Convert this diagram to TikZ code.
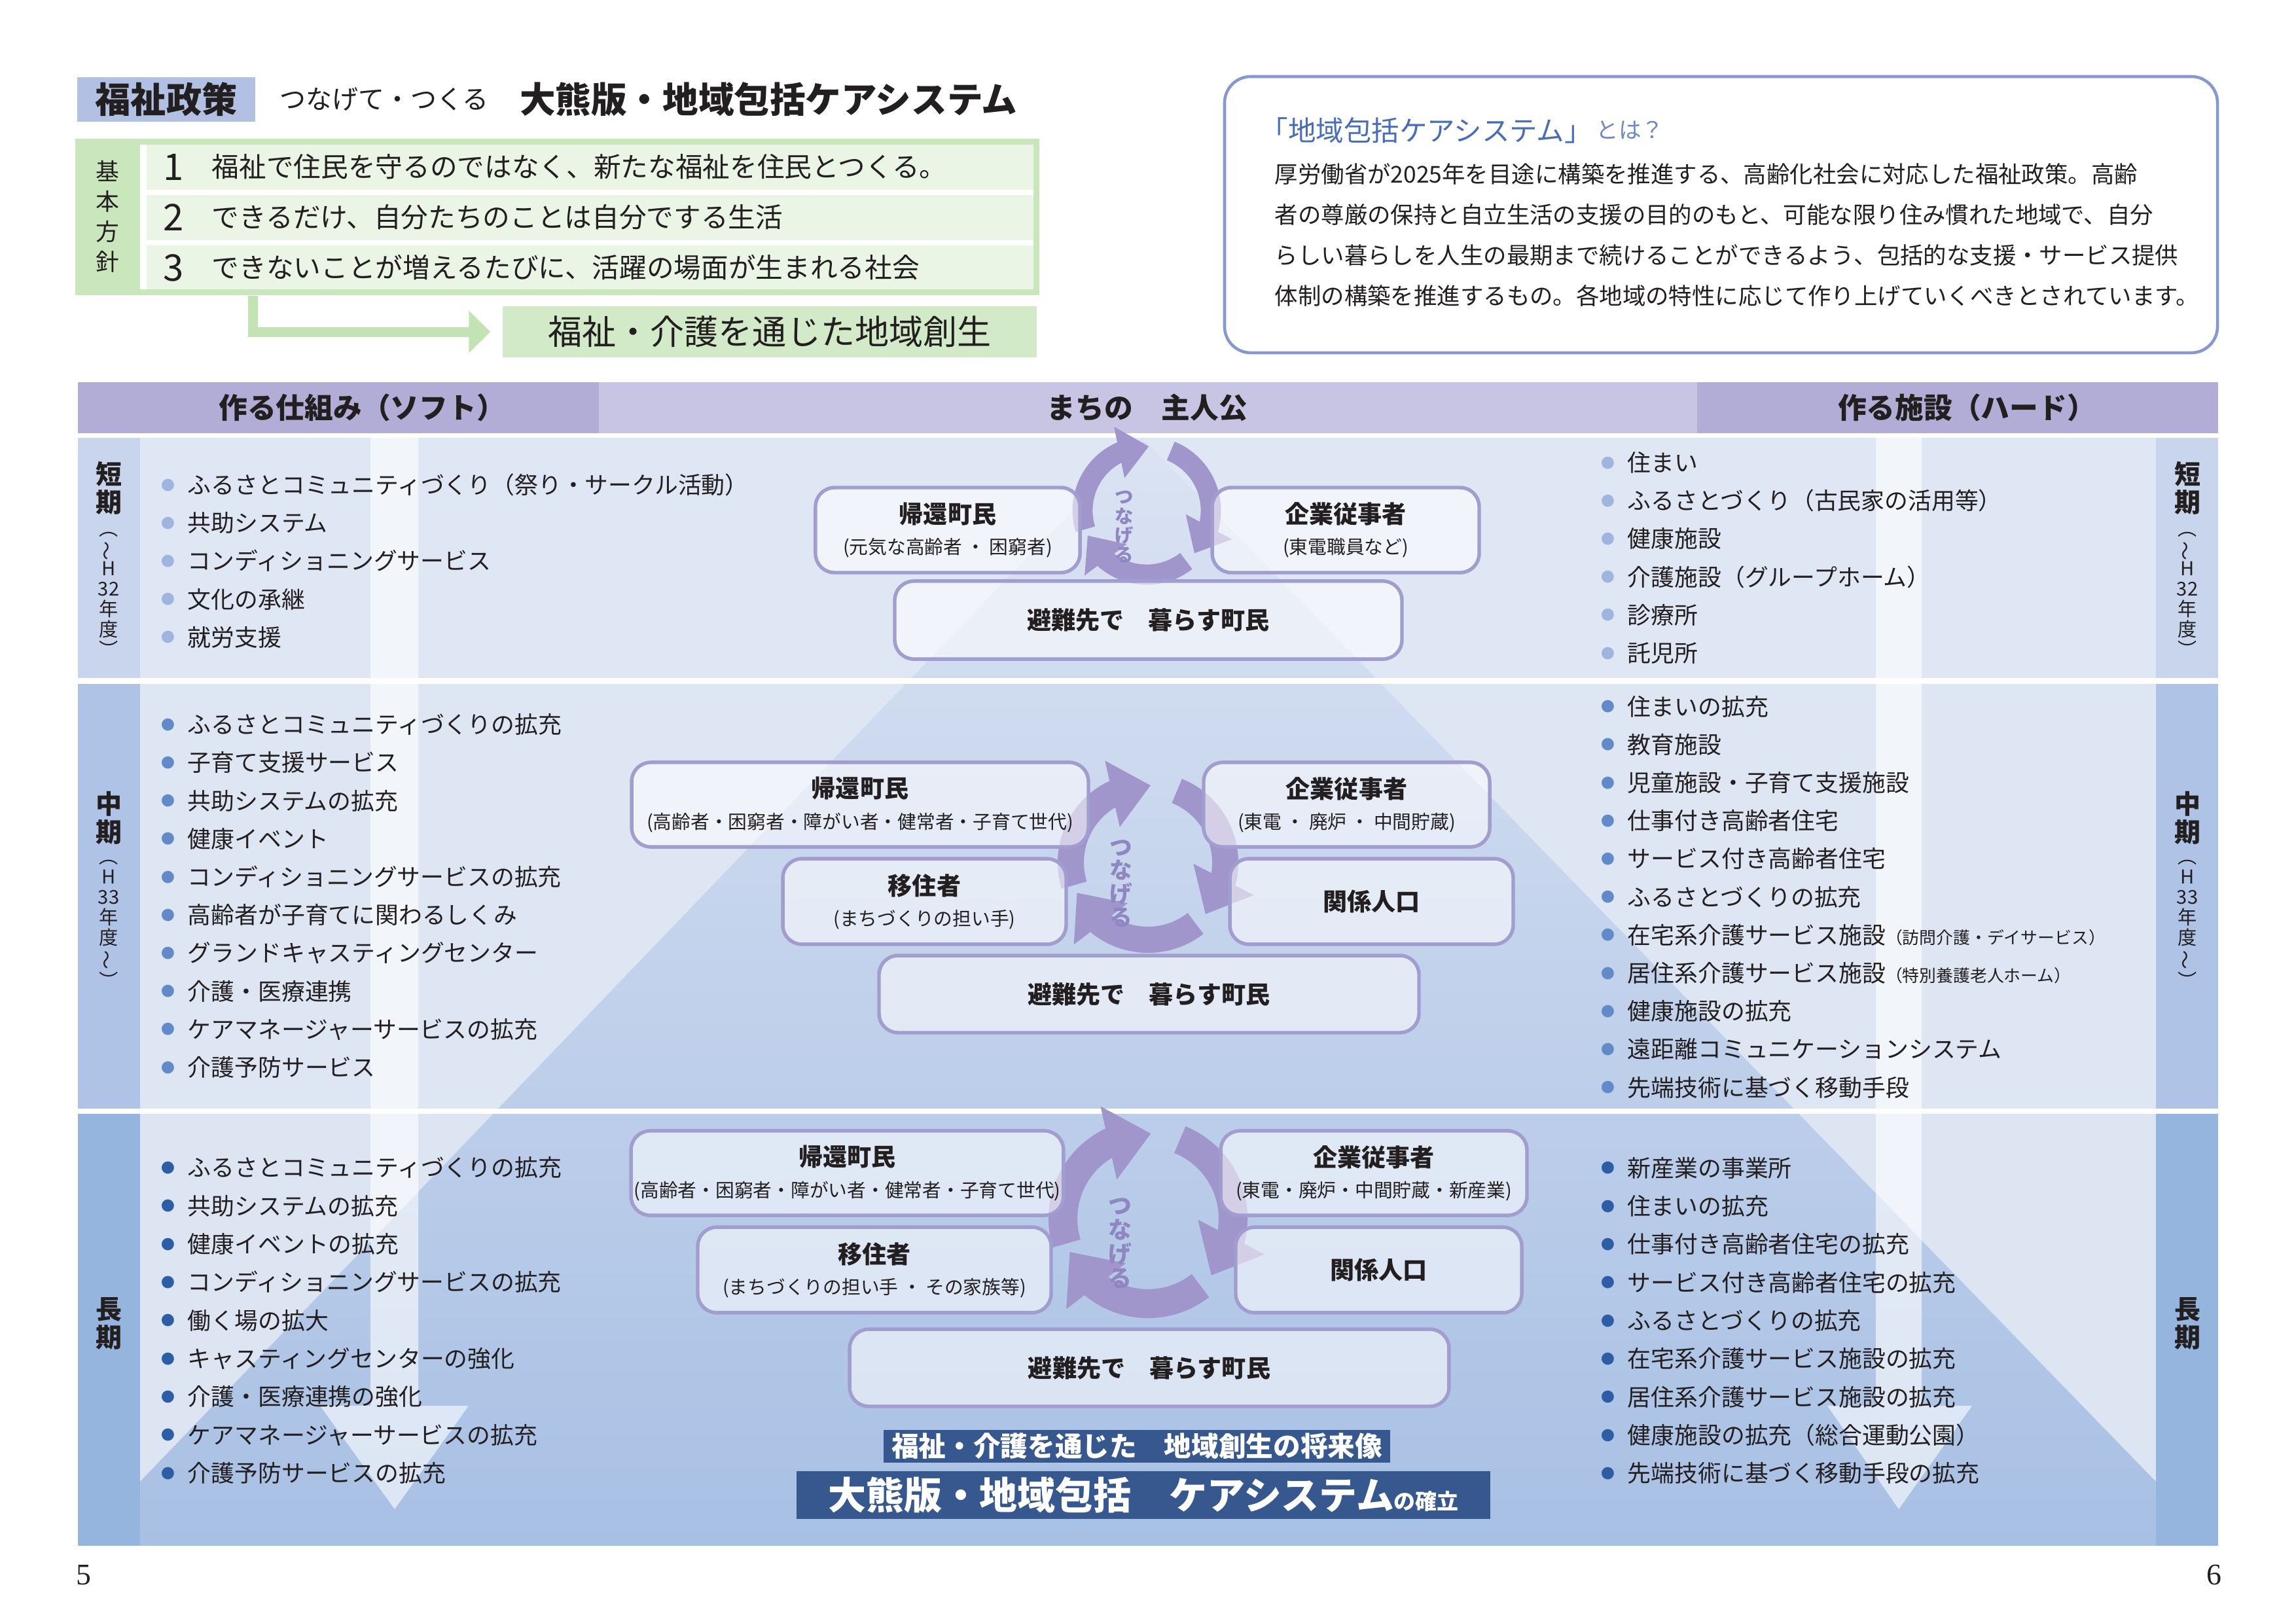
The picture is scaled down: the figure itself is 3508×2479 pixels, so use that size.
\documentclass[tikz,border=0pt]{standalone}
\usepackage{fontspec}
\setmainfont{Noto Sans CJK JP}
\newfontfamily\pagenumfont{Liberation Serif}
\usepackage{graphicx}
\usetikzlibrary{positioning, arrows.meta, bending}

\definecolor{ink}{HTML}{231F20}
\definecolor{polblue}{HTML}{B2C0E3}
\definecolor{greenframe}{HTML}{C9E6BD}
\definecolor{greenrow}{HTML}{EBF5E6}
\definecolor{greengoal}{HTML}{D3EAC8}
\definecolor{greenarrow}{HTML}{C3E3B5}
\definecolor{infoline}{HTML}{8798CF}
\definecolor{infoblue}{HTML}{4A6DB7}
\definecolor{infosub}{HTML}{7088C3}
\definecolor{headdark}{HTML}{B2ADD6}
\definecolor{headlight}{HTML}{C7C5E3}
\definecolor{bgshort}{HTML}{E0E7F4}
\definecolor{bgmid}{HTML}{DFE6F3}
\definecolor{bglong}{HTML}{DDE5F3}
\definecolor{pyrtop}{HTML}{DBE3F3}
\definecolor{pyrbot}{HTML}{A8C0E4}
\definecolor{lblshort}{HTML}{C8D5ED}
\definecolor{lblmid}{HTML}{AEC3E6}
\definecolor{lbllong}{HTML}{95B5DF}
\definecolor{dotshort}{HTML}{9FB4DF}
\definecolor{dotmid}{HTML}{6289C8}
\definecolor{dotlong}{HTML}{2C5DA5}
\definecolor{ringcol}{HTML}{A096CB}
\definecolor{ringtext}{HTML}{8F86C2}
\definecolor{boxline}{HTML}{A19DCF}
\definecolor{bannerblue}{HTML}{37578F}

\newcommand{\fsz}[2]{\fontsize{#1}{#2}\selectfont}
\newcommand{\bul}[1]{\raisebox{1.3pt}{\textcolor{#1}{\fsz{5pt}{5pt}●}}\hspace{4.6pt}}
\newcommand{\subl}[1]{{\fsz{6.9pt}{6.9pt}\mdseries #1}}
\newcommand{\tilderot}{\rotatebox[origin=c]{90}{～}}

\begin{document}
\begin{tikzpicture}[
  x=0.24pt, y=-0.24pt,
  font=\fsz{8.6pt}{13.97pt},
  txt/.style={inner sep=0pt, text=ink},
  items/.style={txt, anchor=west, align=left},
  polbox/.style={fill=polblue, minimum width=65.3pt, minimum height=16.3pt,
    inner sep=0pt, text=ink, font=\fsz{13pt}{13pt}\bfseries},
  policyframe/.style={fill=greenframe, minimum width=353.5pt, minimum height=57.4pt, inner sep=0pt},
  polnum/.style={txt, font=\fsz{13.5pt}{13.5pt}},
  poltxt/.style={txt, font=\fsz{10pt}{10pt}},
  goalbox/.style={fill=greengoal, minimum width=195.8pt, minimum height=18.7pt,
    inner sep=0pt, text=ink, font=\fsz{12.5pt}{12.5pt}},
  garrow/.style={draw=greenarrow, line width=3.6pt,
    -{Triangle[length=7.9pt, width=15pt]}, shorten >=4.3pt},
  aboutbox/.style={draw=infoline, line width=1.1pt, rounded corners=9.6pt, fill=white,
    minimum width=364.1pt, minimum height=101.3pt, inner sep=0pt},
  abouttxt/.style={txt, anchor=west, font=\fsz{8.5pt}{8.5pt}},
  headtxt/.style={txt, font=\fsz{10.5pt}{10.5pt}\bfseries},
  lblbig/.style={txt, align=center, font=\fsz{9.6pt}{10.3pt}\bfseries},
  lblsub/.style={txt, align=center, font=\fsz{7pt}{7.4pt}},
  who/.style={draw=boxline, line width=1.3pt, rounded corners=7pt, fill=white,
    fill opacity=0.55, text opacity=1, align=center, inner sep=0pt, text=ink,
    font=\fsz{8.9pt}{11.3pt}\bfseries},
  banner/.style={fill=bannerblue, inner sep=0pt, text=white, font=\bfseries},
  cyc/.style={draw=ringcol, -{Triangle[width=0pt 2.5, length=0pt 1.5]}},
  cyctxt/.style={inner sep=0pt, text=ringtext, align=center, font=\bfseries},
  shaft/.style={fill=white, fill opacity=0.6},
]
\useasboundingbox (0,0) rectangle (3508,2479);

% Title line
\node[polbox] (pol) at (254,152) {福祉政策};
\node[txt, right=8.6pt of pol, font=\fsz{9.6pt}{9.6pt}] (tsunage) {つなげて・つくる};
\node[txt, right=11pt of tsunage, font=\fsz{13.1pt}{13.1pt}\bfseries] (okuma) {大熊版・地域包括ケアシステム};

% Basic policy box
\node[policyframe] (policy) at (851.5,331.5) {};
\fill[white] (214,221) rectangle (1579,442);
\fill[greenrow] (224,221) rectangle (1579,290);
\fill[greenrow] (224,298) rectangle (1579,367);
\fill[greenrow] (224,375) rectangle (1579,442);
\node[txt, align=center, font=\fsz{8.6pt}{11pt}] (kihon) at (164,331) {基\\本\\方\\針};
\node[polnum] (n1) at (265,255) {1};
\node[poltxt, right=10pt of n1] (p1) {福祉で住民を守るのではなく、新たな福祉を住民とつくる。};
\node[polnum] (n2) at (265,332) {2};
\node[poltxt, right=10pt of n2] (p2) {できるだけ、自分たちのことは自分でする生活};
\node[polnum] (n3) at (265,409) {3};
\node[poltxt, right=10pt of n3] (p3) {できないことが増えるたびに、活躍の場面が生まれる社会};

% Goal
\node[goalbox] (goal) at (1176,507) {福祉・介護を通じた地域創生};
\draw[garrow] ([xshift=65.3pt]policy.south west) |- (goal);

% About box
\node[aboutbox] (about) at (2629.5,328) {};
\node[txt, anchor=west, text=infoblue, font=\fsz{10.2pt}{10.2pt}] (aboutT) at (1925,199) {「地域包括ケアシステム」};
\node[txt, right=1pt of aboutT, text=infosub, font=\fsz{8.3pt}{8.3pt}] (aboutQ) {とは？};
\node[abouttxt] (ab1) at (1947,266) {厚労働省が2025年を目途に構築を推進する、高齢化社会に対応した福祉政策。高齢};
\node[abouttxt] (ab2) at (1947,328) {者の尊厳の保持と自立生活の支援の目的のもと、可能な限り住み慣れた地域で、自分};
\node[abouttxt] (ab3) at (1947,390) {らしい暮らしを人生の最期まで続けることができるよう、包括的な支援・サービス提供};
\node[abouttxt] (ab4) at (1947,452) {体制の構築を推進するもの。各地域の特性に応じて作り上げていくべきとされています。};

% Table header
\fill[headdark] (119,584) rectangle (915,662);
\fill[headlight] (915,584) rectangle (2593,662);
\fill[headdark] (2593,584) rectangle (3389,662);
\node[headtxt] (hsoft) at (553,623) {作る仕組み（ソフト）};
\node[headtxt] (hmain) at (1753,623) {まちの　主人公};
\node[headtxt] (hhard) at (3005,623) {作る施設（ハード）};

% Row backgrounds and pyramid
\fill[bgshort] (214,669) rectangle (3294,1036);
\fill[bgmid] (214,1045) rectangle (3294,1694);
\fill[bglong] (214,1702) rectangle (3294,2362);
\shade[top color=pyrtop, bottom color=pyrbot]
  (1745,669) -- (3294,2264) -- (3294,2362) -- (214,2362) -- (214,2264) -- cycle;
\fill[white] (214,1036) rectangle (3294,1045);
\fill[white] (214,1694) rectangle (3294,1702);

% Term columns
\fill[lblshort] (119,669) rectangle (214,1036);
\fill[lblmid] (119,1045) rectangle (214,1694);
\fill[lbllong] (119,1702) rectangle (214,2362);
\fill[lblshort] (3294,669) rectangle (3389,1036);
\fill[lblmid] (3294,1045) rectangle (3389,1694);
\fill[lbllong] (3294,1702) rectangle (3389,2362);

\node[lblbig] (shortL) at (166,746) {短\\期};
\node[lblsub] (shortLs) at (166,908) {︵\\\tilderot\\H\\32\\年\\度\\︶};
\node[lblbig] (midL) at (166,1250) {中\\期};
\node[lblsub] (midLs) at (166,1412) {︵\\H\\33\\年\\度\\\tilderot\\︶};
\node[lblbig] (longL) at (166,2022) {長\\期};
\node[lblbig] (shortR) at (3342,746) {短\\期};
\node[lblsub] (shortRs) at (3342,908) {︵\\\tilderot\\H\\32\\年\\度\\︶};
\node[lblbig] (midR) at (3342,1250) {中\\期};
\node[lblsub] (midRs) at (3342,1412) {︵\\H\\33\\年\\度\\\tilderot\\︶};
\node[lblbig] (longR) at (3342,2022) {長\\期};

% Downward arrows
\fill[shaft] (566,669) -- (639,669) -- (639,2148) -- (716,2148) -- (603,2306) -- (489,2148) -- (566,2148) -- cycle;
\fill[shaft] (2866,669) -- (2936,669) -- (2936,2148) -- (3013,2148) -- (2901,2306) -- (2792,2148) -- (2866,2148) -- cycle;

% Soft side lists
\node[items] (softS) at (246,857) {\bul{dotshort}ふるさとコミュニティづくり（祭り・サークル活動）\\
  \bul{dotshort}共助システム\\
  \bul{dotshort}コンディショニングサービス\\
  \bul{dotshort}文化の承継\\
  \bul{dotshort}就労支援};
\node[items] (softM) at (246,1369) {\bul{dotmid}ふるさとコミュニティづくりの拡充\\
  \bul{dotmid}子育て支援サービス\\
  \bul{dotmid}共助システムの拡充\\
  \bul{dotmid}健康イベント\\
  \bul{dotmid}コンディショニングサービスの拡充\\
  \bul{dotmid}高齢者が子育てに関わるしくみ\\
  \bul{dotmid}グランドキャスティングセンター\\
  \bul{dotmid}介護・医療連携\\
  \bul{dotmid}ケアマネージャーサービスの拡充\\
  \bul{dotmid}介護予防サービス};
\node[items, font=\fsz{8.6pt}{14pt}] (softL) at (246,2017.5) {\bul{dotlong}ふるさとコミュニティづくりの拡充\\
  \bul{dotlong}共助システムの拡充\\
  \bul{dotlong}健康イベントの拡充\\
  \bul{dotlong}コンディショニングサービスの拡充\\
  \bul{dotlong}働く場の拡大\\
  \bul{dotlong}キャスティングセンターの強化\\
  \bul{dotlong}介護・医療連携の強化\\
  \bul{dotlong}ケアマネージャーサービスの拡充\\
  \bul{dotlong}介護予防サービスの拡充};

% Hard side lists
\node[items] (hardS) at (2446,852.5) {\bul{dotshort}住まい\\
  \bul{dotshort}ふるさとづくり（古民家の活用等）\\
  \bul{dotshort}健康施設\\
  \bul{dotshort}介護施設（グループホーム）\\
  \bul{dotshort}診療所\\
  \bul{dotshort}託児所};
\node[items] (hardM) at (2446,1370.5) {\bul{dotmid}住まいの拡充\\
  \bul{dotmid}教育施設\\
  \bul{dotmid}児童施設・子育て支援施設\\
  \bul{dotmid}仕事付き高齢者住宅\\
  \bul{dotmid}サービス付き高齢者住宅\\
  \bul{dotmid}ふるさとづくりの拡充\\
  \bul{dotmid}在宅系介護サービス施設{\fsz{6.2pt}{6.2pt}（訪問介護・デイサービス）}\\
  \bul{dotmid}居住系介護サービス施設{\fsz{6.2pt}{6.2pt}（特別養護老人ホーム）}\\
  \bul{dotmid}健康施設の拡充\\
  \bul{dotmid}遠距離コミュニケーションシステム\\
  \bul{dotmid}先端技術に基づく移動手段};
\node[items, font=\fsz{8.6pt}{14pt}] (hardL) at (2446,2018) {\bul{dotlong}新産業の事業所\\
  \bul{dotlong}住まいの拡充\\
  \bul{dotlong}仕事付き高齢者住宅の拡充\\
  \bul{dotlong}サービス付き高齢者住宅の拡充\\
  \bul{dotlong}ふるさとづくりの拡充\\
  \bul{dotlong}在宅系介護サービス施設の拡充\\
  \bul{dotlong}居住系介護サービス施設の拡充\\
  \bul{dotlong}健康施設の拡充（総合運動公園）\\
  \bul{dotlong}先端技術に基づく移動手段の拡充};

% Cycles
\coordinate (cyc1) at (1752,780);
\draw[cyc, line width=7.4pt] (cyc1) ++(163:98) arc[start angle=163, end angle=272, radius=98];
\draw[cyc, line width=7.4pt] (cyc1) ++(292:98) arc[start angle=292, end angle=402, radius=98];
\draw[cyc, line width=7.4pt] (cyc1) ++(52:98) arc[start angle=52, end angle=157, radius=98];
\coordinate (cyc2) at (1754,1318);
\draw[cyc, line width=9.6pt] (cyc2) ++(163:118) arc[start angle=163, end angle=272, radius=118];
\draw[cyc, line width=9.6pt] (cyc2) ++(292:118) arc[start angle=292, end angle=402, radius=118];
\draw[cyc, line width=9.6pt] (cyc2) ++(52:118) arc[start angle=52, end angle=157, radius=118];
\coordinate (cyc3) at (1754,1862);
\draw[cyc, line width=10.6pt] (cyc3) ++(163:130) arc[start angle=163, end angle=272, radius=130];
\draw[cyc, line width=10.6pt] (cyc3) ++(292:130) arc[start angle=292, end angle=402, radius=130];
\draw[cyc, line width=10.6pt] (cyc3) ++(52:130) arc[start angle=52, end angle=157, radius=130];

% Short term people
\node[who, minimum width=97pt, minimum height=31.2pt] (kika1) at (1448,810) {帰還町民\\ \subl{(元気な高齢者 ・ 困窮者)}};
\node[who, minimum width=97.9pt, minimum height=31.2pt] (kigyo1) at (2056,810) {企業従事者\\ \subl{(東電職員など)}};
\node[who, minimum width=186pt, minimum height=28.6pt] (hinan1) at (1754.5,947.5) {避難先で　暮らす町民};
\node[cyctxt, font=\fsz{6.8pt}{7.1pt}\bfseries] (tsu1) at (1718,805) {つ\\な\\げ\\る};

% Mid term people
\node[who, minimum width=167.5pt, minimum height=31pt] (kika2) at (1314,1229.5) {帰還町民\\ \subl{(高齢者・困窮者・障がい者・健常者・子育て世代)}};
\node[who, minimum width=104.9pt, minimum height=31pt] (kigyo2) at (2057.5,1229.5) {企業従事者\\ \subl{(東電 ・ 廃炉 ・ 中間貯蔵)}};
\node[who, minimum width=103.9pt, minimum height=31.4pt] (iju2) at (1412.5,1377.5) {移住者\\ \subl{(まちづくりの担い手)}};
\node[who, minimum width=103.9pt, minimum height=31.4pt] (kankei2) at (2095.5,1377.5) {関係人口};
\node[who, minimum width=198pt, minimum height=28.3pt] (hinan2) at (1755.5,1519) {避難先で　暮らす町民};
\node[cyctxt, font=\fsz{8.3pt}{8.6pt}\bfseries] (tsu2) at (1713,1350) {つ\\な\\げ\\る};

% Long term people
\node[who, minimum width=158.6pt, minimum height=31pt] (kika3) at (1294.5,1792.5) {帰還町民\\ \subl{(高齢者・困窮者・障がい者・健常者・子育て世代)}};
\node[who, minimum width=112.3pt, minimum height=31pt] (kigyo3) at (2099,1792.5) {企業従事者\\ \subl{(東電・廃炉・中間貯蔵・新産業)}};
\node[who, minimum width=129.6pt, minimum height=31.4pt] (iju3) at (1336,1940.5) {移住者\\ \subl{(まちづくりの担い手 ・ その家族等)}};
\node[who, minimum width=104.9pt, minimum height=31.4pt] (kankei3) at (2106.5,1940.5) {関係人口};
\node[who, minimum width=219.8pt, minimum height=28.3pt] (hinan3) at (1756,2090) {避難先で　暮らす町民};
\node[cyctxt, font=\fsz{8.6pt}{8.9pt}\bfseries] (tsu3) at (1711,1900) {つ\\な\\げ\\る};

% Future vision
\node[banner, minimum width=185.8pt, minimum height=12pt, font=\fsz{10pt}{10pt}\bfseries] (vision) at (1737,2210) {福祉・介護を通じた　地域創生の将来像};
\node[banner, minimum width=254.4pt, minimum height=17.5pt, font=\fsz{13.9pt}{13.9pt}\bfseries] (kakuritsu) at (1747,2284.5) {大熊版・地域包括　ケアシステム{\fsz{7.9pt}{7.9pt}の確立}};

% Page numbers
\node[txt, font=\pagenumfont\fsz{11pt}{11pt}] (pg5) at (128,2407) {5};
\node[txt, font=\pagenumfont\fsz{11pt}{11pt}] (pg6) at (3383,2407) {6};
\end{tikzpicture}
\end{document}
